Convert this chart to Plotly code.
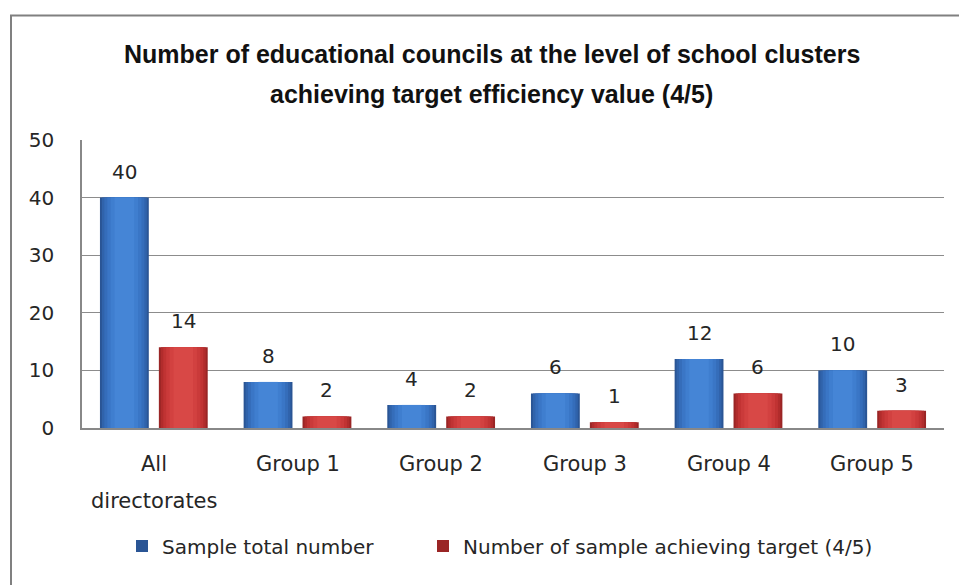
import plotly.graph_objects as go

categories = ["All directorates", "Group 1", "Group 2", "Group 3", "Group 4", "Group 5"]
category_lines = [["All", "directorates"], ["Group 1"], ["Group 2"], ["Group 3"], ["Group 4"], ["Group 5"]]
sample_total = [40, 8, 4, 6, 12, 10]
achieving_target = [14, 2, 2, 1, 6, 3]
series_names = ["Sample total number", "Number of sample achieving target (4/5)"]
title_lines = [
    "Number of educational councils at the level of school clusters",
    "achieving target efficiency value (4/5)",
]
y_ticks = [0, 10, 20, 30, 40, 50]

FONT = "DejaVu Sans, Verdana, sans-serif"
label_font = dict(family=FONT, size=20, color="#262626")

# figure and plot-area geometry (pixels)
W, H = 959, 585
L, R, T, B = 82, 15, 140, 157
pw, ph = W - L - R, H - T - B

BAR_W = 0.34      # bar width in category units
HALF_SEP = 0.205  # distance from category centre to each bar centre

# shaded bars: from dark rim towards a lighter core
shades = {
    "blue": ["#2a5595", "#3063ab", "#356dba", "#3a76c6", "#3f7ecf", "#4585d6"],
    "red": ["#9a2525", "#b12c2c", "#c03333", "#ca3a3a", "#d24140", "#d84846"],
}
layer_fracs = [1.0, 0.92, 0.82, 0.7, 0.56, 0.4]

# extra spacing after the first legend entry
legend_pad = "\u00a0" * 7

fig = go.Figure()
for values, name, key, sign in [
    (sample_total, series_names[0] + legend_pad, "blue", -1),
    (achieving_target, series_names[1], "red", 1),
]:
    centre = sign * HALF_SEP
    for i, (f, c) in enumerate(zip(layer_fracs, shades[key])):
        w = BAR_W * f
        fig.add_trace(go.Bar(
            x=categories, y=values, name=name,
            width=w, offset=centre - w / 2,
            marker=dict(color=c, line=dict(width=0)),
            showlegend=(i == 0), hoverinfo="skip" if i else None,
            legendgroup=name,
        ))

annotations = []
# value labels above each bar
for values, sign in [(sample_total, -1), (achieving_target, 1)]:
    for cat, v in zip(categories, values):
        annotations.append(dict(
            x=cat, y=v, xref="x", yref="y", text=str(v), showarrow=False,
            xshift=sign * HALF_SEP * pw / len(categories), yshift=26,
            yanchor="middle", font=label_font,
        ))
# category labels under the axis
for cat, lines in zip(categories, category_lines):
    for j, line in enumerate(lines):
        annotations.append(dict(
            x=cat, y=0, xref="x", yref="y", text=line, showarrow=False,
            yshift=-(36 + 37 * j), yanchor="middle",
            font=dict(family=FONT, size=21, color="#262626"),
        ))
# two-line chart title
for j, line in enumerate(title_lines):
    annotations.append(dict(
        x=(491.5 - L) / pw, y=(H - B - (54 + 40 * j)) / ph, xref="paper", yref="paper",
        text=f"<b>{line}</b>", showarrow=False, xanchor="center", yanchor="middle",
        font=dict(family="Liberation Sans, Arial, sans-serif", size=25, color="#111111"),
    ))

fig.update_layout(
    width=W, height=H,
    margin=dict(l=L, r=R, t=T, b=B),
    paper_bgcolor="white", plot_bgcolor="white",
    barmode="overlay",
    xaxis=dict(
        showgrid=False, showline=True, linecolor="#888888", linewidth=1.5,
        showticklabels=False, ticks="", range=[-0.5, len(categories) - 0.5],
    ),
    yaxis=dict(
        range=[0, 50], tickvals=y_ticks, showgrid=True, gridcolor="#8c8c8c", gridwidth=1,
        showline=True, linecolor="#888888", linewidth=1.5, zeroline=False,
        ticks="", tickfont=label_font, ticklabelstandoff=22,
    ),
    legend=dict(
        orientation="h", x=(500 - L) / pw, xanchor="center",
        y=(H - B - 546) / ph, yanchor="middle",
        font=label_font, itemwidth=30, traceorder="normal",
    ),
    annotations=annotations,
    shapes=[dict(
        type="rect", xref="paper", yref="paper",
        x0=(11 - L) / pw, x1=(975 - L) / pw,
        y0=(H - B - 600) / ph, y1=(H - B - 15.5) / ph,
        line=dict(color="#808080", width=2), fillcolor="rgba(0,0,0,0)", layer="below",
    )],
)

fig.write_html("out.html")
